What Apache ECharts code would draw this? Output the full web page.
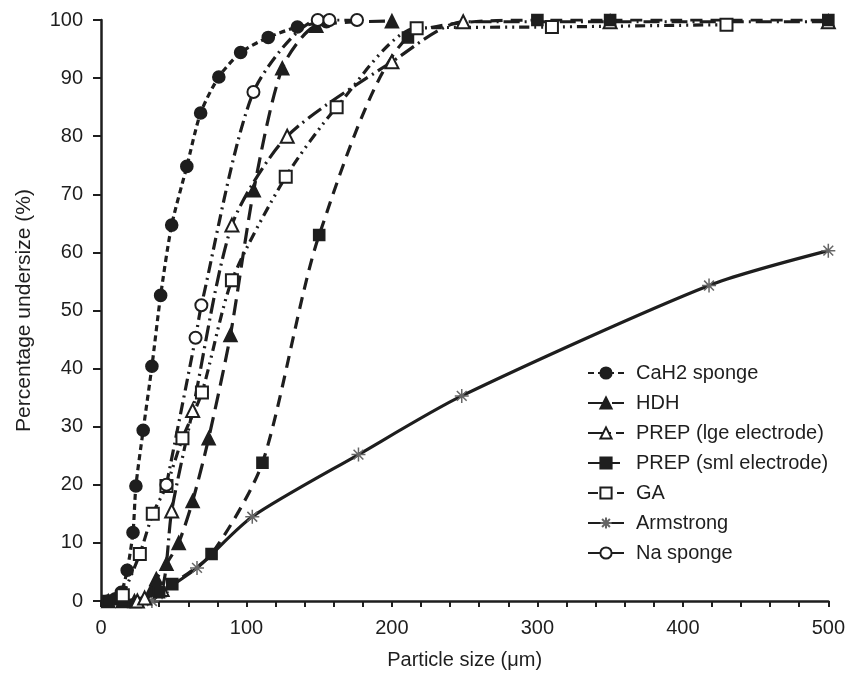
<!DOCTYPE html>
<html>
<head>
<meta charset="utf-8">
<script src="https://cdn.jsdelivr.net/npm/echarts@6/dist/echarts.min.js"></script>
<style>html,body{margin:0;padding:0;background:#fff}#c{width:848px;height:675px}</style>
</head>
<body>
<div id="c"></div>
<script>
const seriesNames = ['CaH2 sponge','HDH','PREP (lge electrode)','PREP (sml electrode)','GA','Armstrong','Na sponge'];
const cah2 = [[5,0],[10,0.4],[14,1.5],[18,5.3],[22,11.8],[24,19.8],[29,29.4],[35,40.4],[41,52.6],[48.6,64.7],[59,74.8],[68.5,84],[81,90.2],[96,94.4],[115,97],[135,98.8],[155,99.7]];
const hdh = [[5,0],[15,0],[23,0],[35,2],[38,3.8],[45,6.4],[53.4,10],[63,17.2],[74,28],[89,45.8],[105,70.7],[124.6,91.7],[148,99],[200,99.8]];
const prepLge = [[25,0],[30,0.5],[42,2],[48.6,15.5],[63,32.8],[90,64.7],[128,80],[200,92.8],[249,99.7],[350,99.7],[500,99.7]];
const prepSml = [[5,0],[15,0],[40,1.5],[49,2.9],[76,8.1],[111,23.8],[150,63],[211,97],[300,100],[350,100],[500,100]];
const ga = [[15,1],[26.7,8.1],[35.6,15],[45,19.8],[56,28],[69.4,35.9],[90,55.2],[127,73],[162,85],[217,98.6],[310,98.8],[430,99.2]];
const armstrong = [[35,0],[42,1.5],[66,5.7],[104,14.5],[177,25.2],[248,35.3],[418,54.3],[500,60.3]];
const naSponge = [[45,20],[65,45.3],[69,50.9],[104.8,87.6],[149,100],[157,100],[176,100]];
const xTicks = [0,100,200,300,400,500];
const yTicks = [0,10,20,30,40,50,60,70,80,90,100];

const ink = '#1e1e1e';
const font = 'Liberation Sans, Arial, sans-serif';
const starPath = 'path://M0,5L10,5M1.5,1.5L8.5,8.5M8.5,1.5L1.5,8.5M5,0L5,10';

function mk(name, data, symbol, dash, size, opts) {
  return Object.assign({
    name: name, type: 'line', data: data, symbol: symbol, symbolSize: size,
    smooth: 0.25,
    lineStyle: {color: ink, width: 3.2, type: dash},
    itemStyle: {color: ink, borderColor: ink, borderWidth: 1.6},
    z: 3
  }, opts || {});
}

const chart = echarts.init(document.getElementById('c'), null, {renderer: 'canvas'});
chart.setOption({
  backgroundColor: '#fff',
  animation: false,
  textStyle: {fontFamily: font},
  grid: {left: 101, right: 17, top: 20, bottom: 74, containLabel: false},
  legend: {
    orient: 'vertical', left: 582, top: 358,
    itemWidth: 36, itemHeight: 14, itemGap: 10,
    data: seriesNames,
    textStyle: {fontSize: 20, lineHeight: 20, color: ink, padding: [0,0,0,7], fontFamily: font}
  },
  xAxis: {
    type: 'value', min: 0, max: 500, interval: 100,
    name: 'Particle size (μm)', nameLocation: 'middle', nameGap: 49,
    nameTextStyle: {fontSize: 20, color: ink},
    axisLine: {show: true, lineStyle: {color: ink, width: 2.5}},
    axisTick: {show: true, length: 6, lineStyle: {color: ink, width: 2}},
    minorTick: {show: true, splitNumber: 5, length: 6, lineStyle: {color: ink, width: 2}},
    axisLabel: {fontSize: 20, color: ink, margin: 17, formatter: v => xTicks.includes(v) ? String(v) : ''},
    splitLine: {show: false}
  },
  yAxis: {
    type: 'value', min: 0, max: 100, interval: 10,
    name: 'Percentage undersize (%)', nameLocation: 'middle', nameGap: 66, nameRotate: 90,
    nameTextStyle: {fontSize: 21, color: ink},
    axisLine: {show: true, lineStyle: {color: ink, width: 2.5}},
    axisTick: {show: true, length: 8, lineStyle: {color: ink, width: 2}},
    axisLabel: {fontSize: 20, color: ink, margin: 18, formatter: v => yTicks.includes(v) ? String(v) : ''},
    splitLine: {show: false}
  },
  series: [
    mk(seriesNames[0], cah2, 'circle', [6,4], 12),
    mk(seriesNames[1], hdh, 'triangle', [16,8], 13),
    mk(seriesNames[2], prepLge, 'emptyTriangle', [16,5,2,5], 13),
    mk(seriesNames[3], prepSml, 'rect', [12,8], 11),
    mk(seriesNames[4], ga, 'emptyRect', [10,5,2,5,2,5], 12),
    mk(seriesNames[5], armstrong, starPath, 'solid', 14, {
      itemStyle: {color: 'none', borderColor: '#666', borderWidth: 1.5}, z: 2
    }),
    mk(seriesNames[6], naSponge, 'emptyCircle', [12,5,2,5], 12)
  ]
});
</script>
</body>
</html>
